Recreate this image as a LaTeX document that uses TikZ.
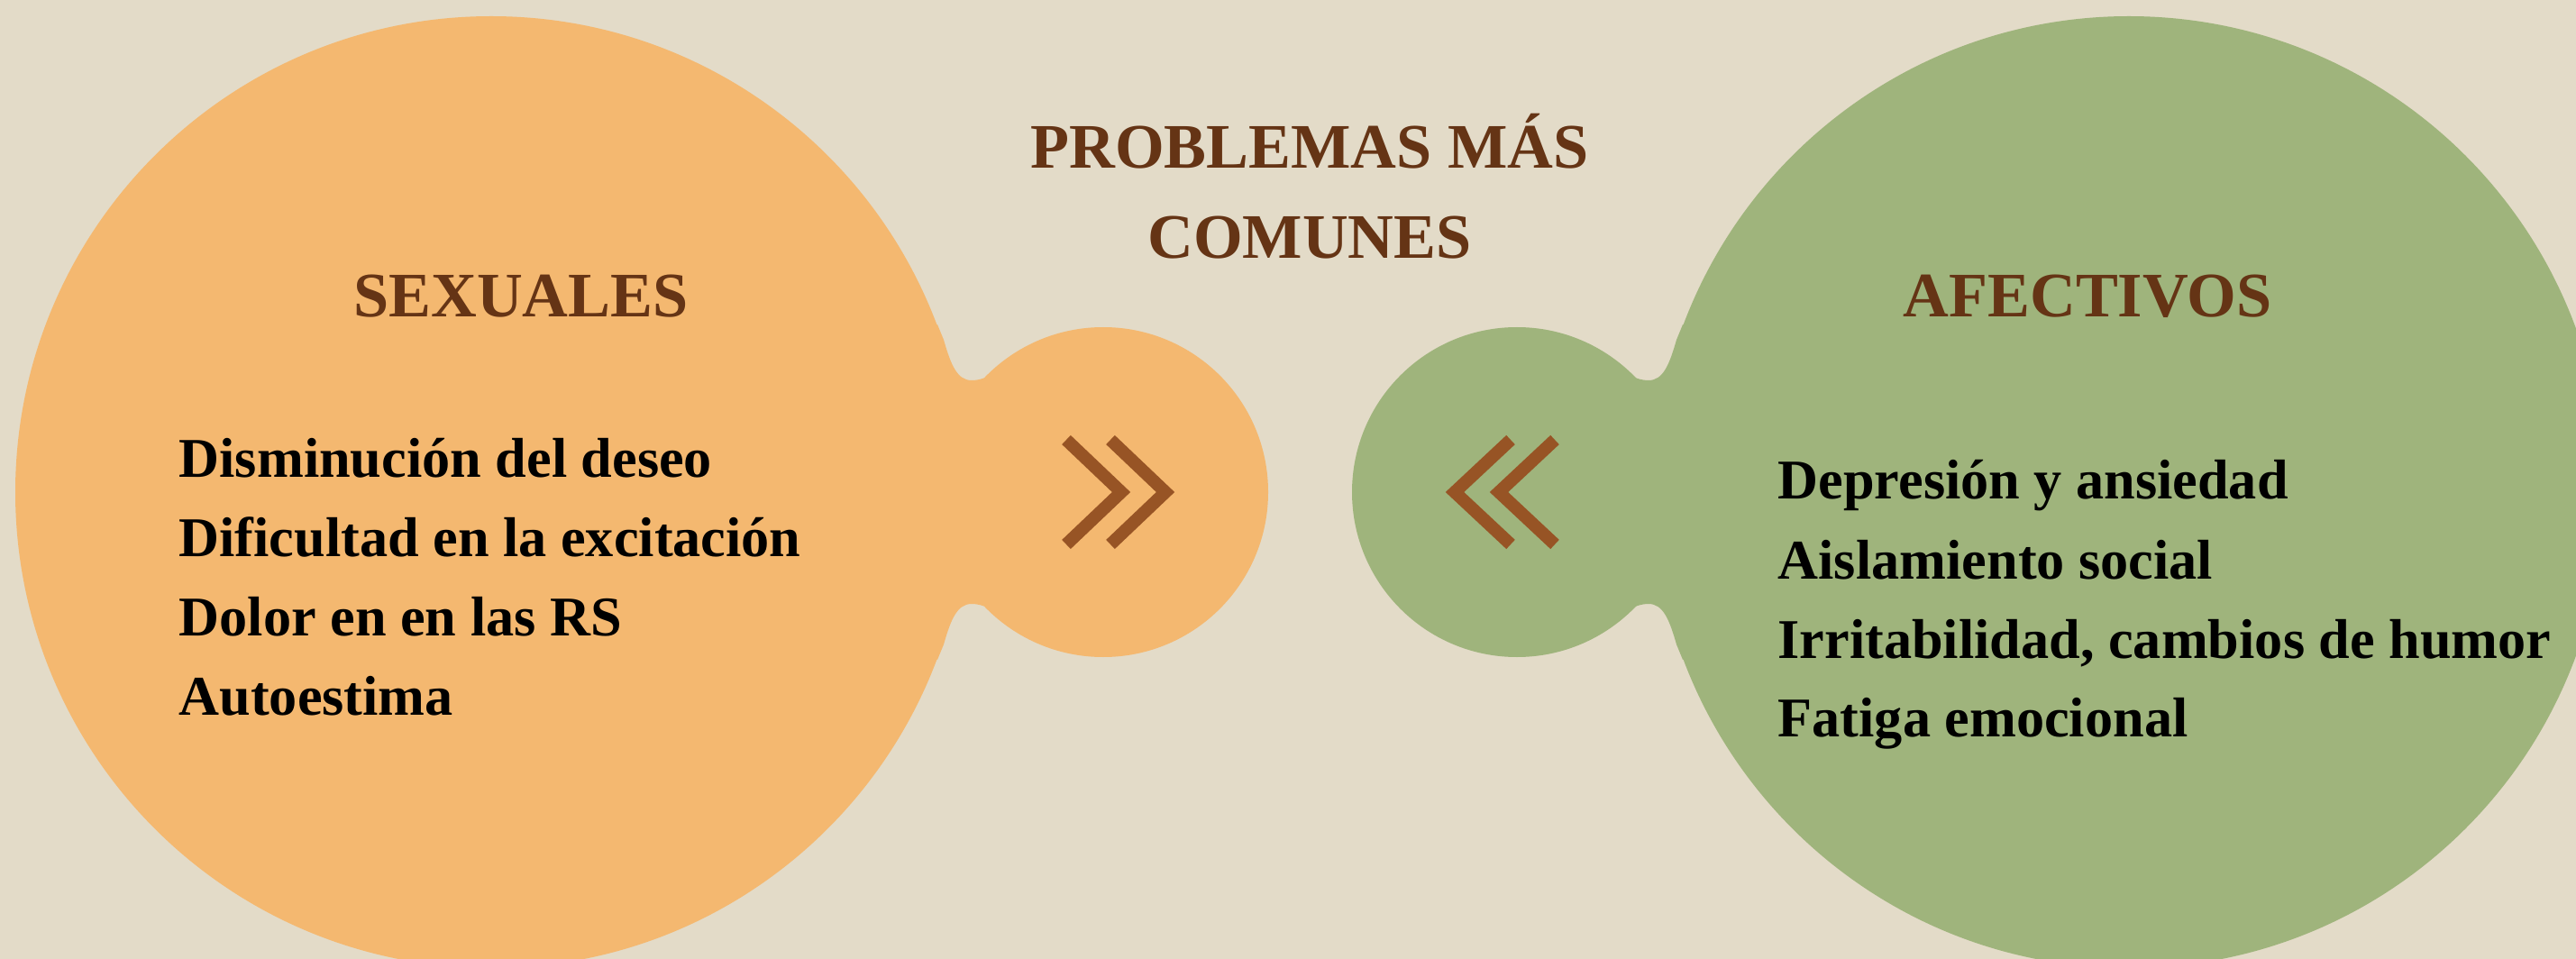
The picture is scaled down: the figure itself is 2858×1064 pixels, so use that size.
\documentclass[tikz,border=0pt]{standalone}
\usepackage{fontspec}
\setmainfont{Liberation Serif}
\definecolor{fondo}{HTML}{E3DBC8}
\definecolor{naranja}{HTML}{F4B870}
\definecolor{verde}{HTML}{9FB47C}
\definecolor{cafe}{HTML}{653415}
\definecolor{flecha}{HTML}{975425}
\tikzset{
  titulo/.style={font=\fontsize{20}{28.5}\selectfont\bfseries, text=cafe, inner sep=0pt},
  item/.style={font=\fontsize{17.7}{25}\selectfont\bfseries, text=black, inner sep=0pt, anchor=base west},
  chevron/.style={draw=flecha, line width=3.98pt, line join=miter, line cap=butt}
}
\begin{document}
\begin{tikzpicture}[x=0.01cm, y=-0.01cm]
    \useasboundingbox (0,0) rectangle (2858,1064);
    \clip (0,0) rectangle (2858,1064);
    \fill[fondo] (0,0) rectangle (2858,1064);
    % lado izquierdo
    \fill[naranja] (545,546) circle[radius=528];
    \fill[naranja] (1224,546) circle[radius=183];
    \fill[naranja] (545,546) -- (1040,360) -- (1047,377)
      .. controls (1055,405) and (1062,422) .. (1078,422)
      .. controls (1095,422) and (1112,410) .. (1140,385)
      -- (1224,546) -- (1140,707)
      .. controls (1112,682) and (1095,670) .. (1078,670)
      .. controls (1062,670) and (1055,687) .. (1047,715)
      -- (1040,732) -- cycle;
    % lado derecho
    \fill[verde] (2362,546) circle[radius=528];
    \fill[verde] (1683,546) circle[radius=183];
    \fill[verde] (2362,546) -- (1867,360) -- (1860,377)
      .. controls (1852,405) and (1845,422) .. (1829,422)
      .. controls (1812,422) and (1795,410) .. (1767,385)
      -- (1683,546) -- (1767,707)
      .. controls (1795,682) and (1812,670) .. (1829,670)
      .. controls (1845,670) and (1852,687) .. (1860,715)
      -- (1867,732) -- cycle;
    % flechas
    \draw[chevron] (1183,488) -- (1244,546) -- (1183,604);
    \draw[chevron] (1232,488) -- (1293,546) -- (1232,604);
    \draw[chevron] (1676,488) -- (1614,546) -- (1676,604);
    \draw[chevron] (1725,488) -- (1663,546) -- (1725,604);
    % textos
    \node[titulo, align=center, anchor=base] (title) at (1453,287) {PROBLEMAS MÁS\\COMUNES};
    \node[titulo, anchor=base] (sexuales) at (578,352) {SEXUALES};
    \node[titulo, anchor=base] (afectivos) at (2316,352) {AFECTIVOS};
    \node[item] (s1) at (198,529) {Disminución del deseo};
    \node[item] (s2) at (198,617) {Dificultad en la excitación};
    \node[item] (s3) at (198,705) {Dolor en en las RS};
    \node[item] (s4) at (198,793) {Autoestima};
    \node[item] (a1) at (1972,553) {Depresión y ansiedad};
    \node[item] (a2) at (1972,642) {Aislamiento social};
    \node[item] (a3) at (1972,730) {Irritabilidad, cambios de humor};
    \node[item] (a4) at (1972,817) {Fatiga emocional};
\end{tikzpicture}
\end{document}
